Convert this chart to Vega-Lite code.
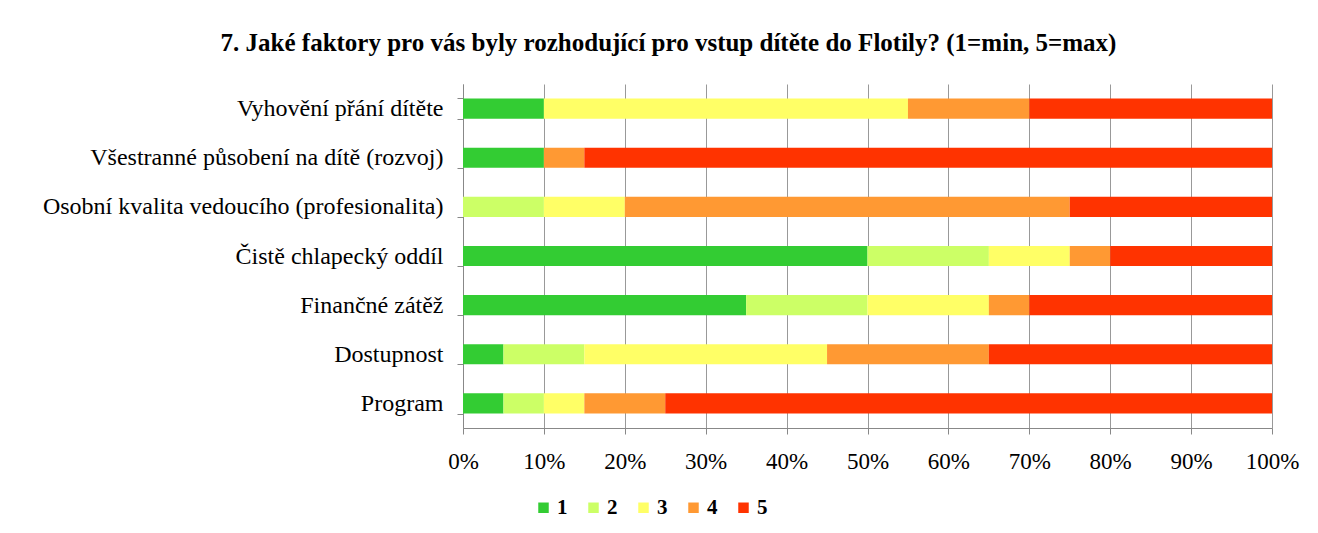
{
  "$schema": "https://vega.github.io/schema/vega-lite/v6.json",
  "autosize": {"type": "none"},
  "width": 809,
  "height": 344,
  "padding": {"left": 463, "top": 84, "right": 46, "bottom": 105},
  "background": "white",
  "config": {"view": {"stroke": null}, "font": "Liberation Serif"},
  "title": {
    "text": "7. Jaké faktory pro vás byly rozhodující pro vstup dítěte do Flotily? (1=min, 5=max)",
    "font": "Liberation Serif",
    "fontSize": 25,
    "fontWeight": "bold",
    "color": "#000000",
    "anchor": "middle",
    "dx": -199,
    "offset": 16
  },
  "data": {
    "values": [
      {"factor": "Vyhovění přání dítěte", "rating": "1", "pct": 10},
      {"factor": "Vyhovění přání dítěte", "rating": "2", "pct": 0},
      {"factor": "Vyhovění přání dítěte", "rating": "3", "pct": 45},
      {"factor": "Vyhovění přání dítěte", "rating": "4", "pct": 15},
      {"factor": "Vyhovění přání dítěte", "rating": "5", "pct": 30},
      {"factor": "Všestranné působení na dítě (rozvoj)", "rating": "1", "pct": 10},
      {"factor": "Všestranné působení na dítě (rozvoj)", "rating": "2", "pct": 0},
      {"factor": "Všestranné působení na dítě (rozvoj)", "rating": "3", "pct": 0},
      {"factor": "Všestranné působení na dítě (rozvoj)", "rating": "4", "pct": 5},
      {"factor": "Všestranné působení na dítě (rozvoj)", "rating": "5", "pct": 85},
      {"factor": "Osobní kvalita vedoucího (profesionalita)", "rating": "1", "pct": 0},
      {"factor": "Osobní kvalita vedoucího (profesionalita)", "rating": "2", "pct": 10},
      {"factor": "Osobní kvalita vedoucího (profesionalita)", "rating": "3", "pct": 10},
      {"factor": "Osobní kvalita vedoucího (profesionalita)", "rating": "4", "pct": 55},
      {"factor": "Osobní kvalita vedoucího (profesionalita)", "rating": "5", "pct": 25},
      {"factor": "Čistě chlapecký oddíl", "rating": "1", "pct": 50},
      {"factor": "Čistě chlapecký oddíl", "rating": "2", "pct": 15},
      {"factor": "Čistě chlapecký oddíl", "rating": "3", "pct": 10},
      {"factor": "Čistě chlapecký oddíl", "rating": "4", "pct": 5},
      {"factor": "Čistě chlapecký oddíl", "rating": "5", "pct": 20},
      {"factor": "Finančné zátěž", "rating": "1", "pct": 35},
      {"factor": "Finančné zátěž", "rating": "2", "pct": 15},
      {"factor": "Finančné zátěž", "rating": "3", "pct": 15},
      {"factor": "Finančné zátěž", "rating": "4", "pct": 5},
      {"factor": "Finančné zátěž", "rating": "5", "pct": 30},
      {"factor": "Dostupnost", "rating": "1", "pct": 5},
      {"factor": "Dostupnost", "rating": "2", "pct": 10},
      {"factor": "Dostupnost", "rating": "3", "pct": 30},
      {"factor": "Dostupnost", "rating": "4", "pct": 20},
      {"factor": "Dostupnost", "rating": "5", "pct": 35},
      {"factor": "Program", "rating": "1", "pct": 5},
      {"factor": "Program", "rating": "2", "pct": 5},
      {"factor": "Program", "rating": "3", "pct": 5},
      {"factor": "Program", "rating": "4", "pct": 10},
      {"factor": "Program", "rating": "5", "pct": 75}
    ]
  },
  "mark": {"type": "bar"},
  "encoding": {
    "y": {
      "field": "factor",
      "type": "nominal",
      "sort": null,
      "title": null,
      "scale": {"paddingInner": 0.59, "paddingOuter": 0.295},
      "axis": {
        "tickBand": "extent",
        "domainColor": "#888888",
        "tickColor": "#888888",
        "tickSize": 6,
        "labelPadding": 14,
        "labelFont": "Liberation Serif",
        "labelFontSize": 24,
        "labelColor": "#000000",
        "labelLimit": 600,
        "grid": false
      }
    },
    "x": {
      "field": "pct",
      "type": "quantitative",
      "stack": "normalize",
      "title": null,
      "scale": {"domain": [0, 1], "nice": false},
      "axis": {
        "format": ".0%",
        "values": [0, 0.1, 0.2, 0.3, 0.4, 0.5, 0.6, 0.7, 0.8, 0.9, 1],
        "labelFlush": false,
        "labelOverlap": false,
        "labelBound": false,
        "grid": true,
        "gridColor": "#999999",
        "gridOpacity": 1,
        "domainColor": "#888888",
        "tickColor": "#888888",
        "tickSize": 6,
        "labelPadding": 16,
        "labelFont": "Liberation Serif",
        "labelFontSize": 23,
        "labelColor": "#000000"
      }
    },
    "color": {
      "field": "rating",
      "type": "nominal",
      "title": null,
      "scale": {
        "domain": ["1", "2", "3", "4", "5"],
        "range": ["#33CC33", "#CCFF66", "#FFFF66", "#FF9933", "#FF3300"]
      },
      "legend": {
        "orient": "none",
        "direction": "horizontal",
        "legendX": 70,
        "legendY": 413,
        "symbolType": "square",
        "symbolSize": 110,
        "symbolStrokeWidth": 0,
        "labelFont": "Liberation Serif",
        "labelFontSize": 21,
        "labelFontWeight": "bold",
        "labelColor": "#000000",
        "labelOffset": 3,
        "columnPadding": 15
      }
    },
    "order": {"field": "rating", "type": "ordinal", "sort": "ascending"}
  }
}
